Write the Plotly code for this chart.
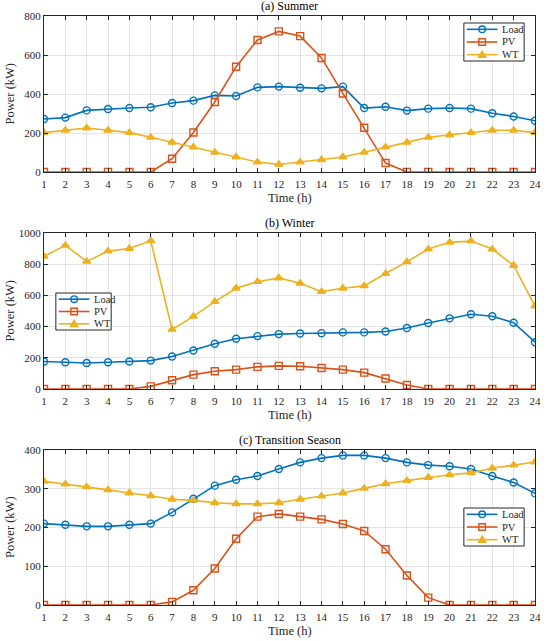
import plotly.graph_objects as go

hours = list(range(1, 25))

summer_load = [272, 279, 316, 323, 328, 332, 354, 366, 393, 390, 434, 438, 432, 429, 438, 328, 335, 315, 325, 328, 325, 301, 285, 263]
summer_pv = [0, 0, 0, 0, 0, 0, 68, 203, 359, 540, 677, 721, 697, 585, 403, 227, 46, 0, 0, 0, 0, 0, 0, 0]
summer_wt = [202, 214, 226, 214, 202, 178, 152, 128, 101, 77, 51, 39, 51, 63, 77, 101, 128, 152, 178, 190, 202, 214, 214, 202]

winter_load = [176, 172, 167, 172, 176, 182, 208, 247, 290, 322, 339, 352, 356, 358, 363, 363, 369, 391, 423, 453, 479, 466, 425, 300]
winter_pv = [0, 0, 0, 0, 0, 17, 56, 92, 114, 124, 142, 148, 146, 135, 124, 105, 67, 26, 0, 0, 0, 0, 0, 0]
winter_wt = [850, 921, 818, 884, 901, 950, 382, 466, 560, 646, 688, 712, 678, 624, 646, 661, 740, 815, 897, 940, 948, 897, 792, 532]

trans_load = [210, 207, 203, 203, 207, 210, 239, 274, 308, 323, 333, 351, 368, 379, 386, 386, 379, 368, 361, 358, 351, 333, 316, 288]
trans_pv = [0, 0, 0, 0, 0, 0, 8, 38, 94, 171, 228, 235, 228, 221, 209, 191, 144, 76, 19, 0, 0, 0, 0, 0]
trans_wt = [319, 312, 305, 297, 289, 282, 273, 270, 264, 261, 261, 264, 273, 281, 289, 301, 313, 321, 329, 336, 341, 353, 361, 369]

titles = ["(a) Summer", "(b) Winter", "(c) Transition Season"]
series_names = ["Load", "PV", "WT"]
x_title = "Time (h)"
y_title = "Power (kW)"
colors = ["#0072BD", "#D95319", "#EDB120"]
symbols = ["circle-open", "square-open", "triangle-up"]
yranges = [[0, 800], [0, 1000], [0, 400]]
ydticks = [200, 200, 100]

data = [
    [summer_load, summer_pv, summer_wt],
    [winter_load, winter_pv, winter_wt],
    [trans_load, trans_pv, trans_wt],
]

FONT = "Liberation Serif"
TXT = "#262626"

W, H = 550, 641
ML, MR, MT, MB = 44, 9, 16, 36
PW = W - ML - MR
PH = H - MT - MB


def px_x(x):
    return (x - ML) / PW


def px_y(y):
    return 1 - (y - MT) / PH


fig = go.Figure()

domains = [[0.7351, 1.0], [0.3667, 0.6316], [0.0, 0.2632]]
xtitle_px = [197.5, 414.5, 630.5]
# legend boxes: left, top, width, height (in pixels)
legend_boxes = [(469, 23, 61, 38), (56, 293, 56, 37), (469, 508, 61, 38)]

for i in range(3):
    xa = "x" if i == 0 else f"x{i+1}"
    ya = "y" if i == 0 else f"y{i+1}"
    for j in range(3):
        fig.add_trace(go.Scatter(
            x=hours, y=data[i][j], name=series_names[j],
            mode="lines+markers", showlegend=False,
            line=dict(color=colors[j], width=1.6),
            marker=dict(symbol=symbols[j], size=7, color=colors[j],
                        line=dict(color=colors[j], width=1.4)),
            xaxis=xa, yaxis=ya,
        ))

layout = dict(
    width=W, height=H,
    margin=dict(l=ML, r=MR, t=MT, b=MB),
    paper_bgcolor="white", plot_bgcolor="white",
    font=dict(family=FONT, size=10, color=TXT),
    showlegend=False,
)

for i in range(3):
    sx = "" if i == 0 else str(i + 1)
    layout["xaxis" + sx] = dict(
        domain=[0, 1], anchor="y" + sx, range=[1, 24], tick0=1, dtick=1,
        showline=True, mirror="ticks", linecolor=TXT, linewidth=1,
        ticks="inside", ticklen=4, tickcolor=TXT, ticklabelstandoff=2,
        showgrid=True, gridcolor="#E3E3E3", gridwidth=1, zeroline=False,
        tickfont=dict(family=FONT, size=11, color=TXT),
    )
    layout["yaxis" + sx] = dict(
        domain=domains[i], anchor="x" + sx, range=yranges[i], dtick=ydticks[i],
        showline=True, mirror="ticks", linecolor=TXT, linewidth=1,
        ticks="inside", ticklen=4, tickcolor=TXT,
        showgrid=True, gridcolor="#E3E3E3", gridwidth=1, zeroline=False,
        tickfont=dict(family=FONT, size=11, color=TXT),
    )

fig.update_layout(**layout)

shapes = []
for i in range(3):
    fig.add_annotation(
        text=titles[i], xref="paper", yref="paper", x=0.5, y=domains[i][1],
        xanchor="center", yanchor="bottom", yshift=1, showarrow=False,
        font=dict(family=FONT, size=12, color="#000000"),
    )
    fig.add_annotation(
        text=x_title, xref="paper", yref="paper", x=0.5, y=px_y(xtitle_px[i]),
        xanchor="center", yanchor="middle", showarrow=False,
        font=dict(family=FONT, size=12.5, color=TXT),
    )
    fig.add_annotation(
        text=y_title, xref="paper", yref="paper", x=px_x(10),
        y=(domains[i][0] + domains[i][1]) / 2,
        xanchor="center", yanchor="middle", textangle=-90, showarrow=False,
        font=dict(family=FONT, size=12.5, color=TXT),
    )

    # legend box
    bl, bt, bw, bh = legend_boxes[i]
    shapes.append(dict(type="rect", xref="paper", yref="paper",
                       x0=px_x(bl), x1=px_x(bl + bw), y0=px_y(bt), y1=px_y(bt + bh),
                       line=dict(color=TXT, width=1), fillcolor="white", layer="above"))
    for j in range(3):
        cy = bt + bh * (2 * j + 1) / 6
        lx0, lx1 = bl + 3, bl + 34
        mx = (lx0 + lx1) / 2
        shapes.append(dict(type="line", xref="paper", yref="paper",
                           x0=px_x(lx0), x1=px_x(lx1), y0=px_y(cy), y1=px_y(cy),
                           line=dict(color=colors[j], width=1.6), layer="above"))
        r = 3.3
        if j == 0:
            shapes.append(dict(type="circle", xref="paper", yref="paper",
                               x0=px_x(mx - r), x1=px_x(mx + r), y0=px_y(cy - r), y1=px_y(cy + r),
                               line=dict(color=colors[j], width=1.4), layer="above"))
        elif j == 1:
            shapes.append(dict(type="rect", xref="paper", yref="paper",
                               x0=px_x(mx - r), x1=px_x(mx + r), y0=px_y(cy - r), y1=px_y(cy + r),
                               line=dict(color=colors[j], width=1.4), layer="above"))
        else:
            path = "M {:.5f} {:.5f} L {:.5f} {:.5f} L {:.5f} {:.5f} Z".format(
                px_x(mx), px_y(cy - r - 0.5),
                px_x(mx + r + 0.6), px_y(cy + r - 0.5),
                px_x(mx - r - 0.6), px_y(cy + r - 0.5))
            shapes.append(dict(type="path", xref="paper", yref="paper", path=path,
                               line=dict(color=colors[j], width=1.2),
                               fillcolor=colors[j], layer="above"))
        fig.add_annotation(
            text=series_names[j], xref="paper", yref="paper",
            x=px_x(bl + 37), y=px_y(cy), xanchor="left", yanchor="middle",
            showarrow=False, font=dict(family=FONT, size=10.5, color=TXT),
        )

fig.update_layout(shapes=shapes)

fig.write_html("out.html", config={"displayModeBar": False},
               post_script="document.body.style.margin='0px';")
